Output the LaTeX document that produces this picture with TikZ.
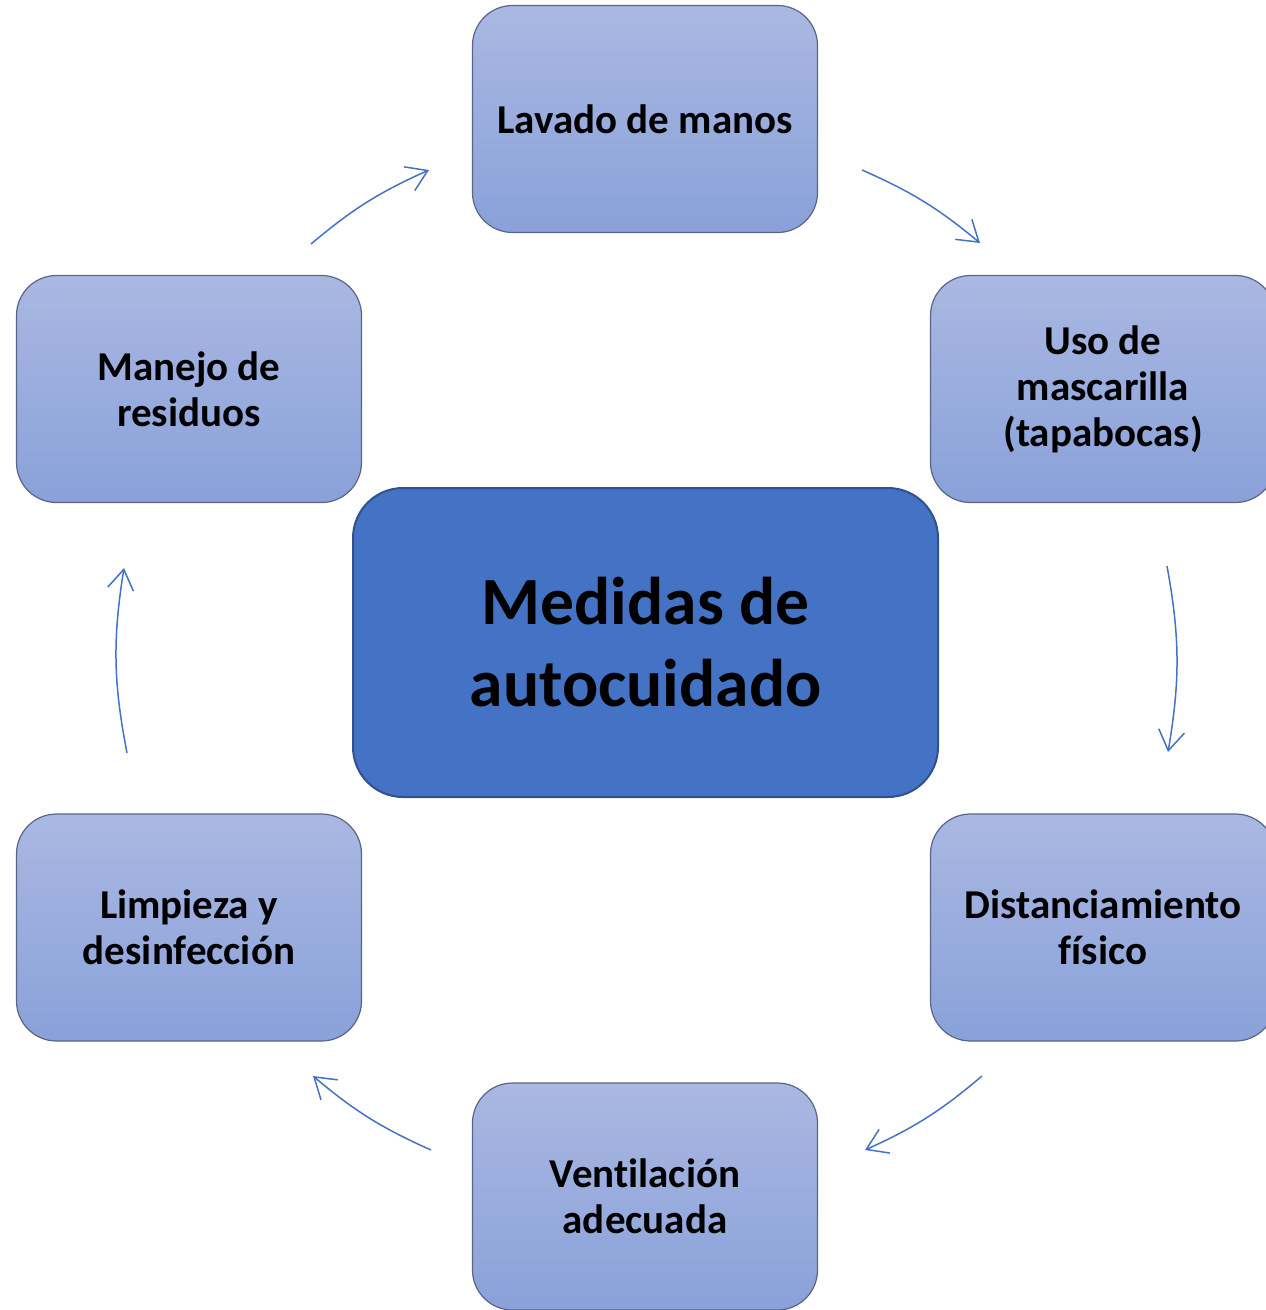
\documentclass[tikz,border=0pt]{standalone}
\usepackage{fontspec}
\setmainfont{Carlito}[Ligatures=NoCommon]
\usetikzlibrary{arrows.meta,shadings}
\definecolor{boxtop}{RGB}{170,184,226}
\definecolor{boxbot}{RGB}{137,161,217}
\definecolor{boxline}{RGB}{90,100,135}
\definecolor{mainfill}{RGB}{68,114,196}
\definecolor{mainline}{RGB}{47,82,143}
\definecolor{arr}{RGB}{68,114,196}
\tikzset{
  smallbox/.style={draw=boxline, line width=1.2pt, rounded corners=40pt,
    top color=boxtop, bottom color=boxbot, minimum width=345pt, minimum height=227pt,
    align=center, font=\fontsize{41}{46}\selectfont\bfseries, inner sep=0pt},
  mainbox/.style={draw=mainline, line width=2pt, rounded corners=50pt, fill=mainfill,
    minimum width=585pt, minimum height=309pt, align=center,
    font=\fontsize{67.5}{82}\selectfont\bfseries, inner sep=0pt},
  cyc/.style={draw=arr, line width=1.5pt, -{Straight Barb[length=20pt,width=26pt,line width=1.5pt]}}
}
\begin{document}
\begin{tikzpicture}[x=1pt,y=-1pt]
\useasboundingbox (0,0) rectangle (1266,1310);
\node[mainbox] (c) at (645.5,642.5) {Medidas de\\autocuidado};
\node[smallbox] (n1) at (645,119) {Lavado de manos};
\node[smallbox] (n2) at (1103,389) {Uso de\\mascarilla\\(tapabocas)};
\node[smallbox] (n3) at (1103,927.5) {Distanciamiento\\físico};
\node[smallbox] (n4) at (645,1196.5) {Ventilación\\adecuada};
\node[smallbox] (n5) at (189,927.5) {Limpieza y\\desinfección};
\node[smallbox] (n6) at (189,389) {Manejo de\\residuos};
\coordinate (a1s) at (862,170);  \coordinate (a1e) at (980,243);
\coordinate (a2s) at (1167,566); \coordinate (a2e) at (1168,752);
\coordinate (a3s) at (982,1076); \coordinate (a3e) at (865,1150);
\coordinate (a4s) at (431,1150); \coordinate (a4e) at (313,1076);
\coordinate (a5s) at (127,753);  \coordinate (a5e) at (124,568);
\coordinate (a6s) at (311,244);  \coordinate (a6e) at (429,170);
\draw[cyc] (a1s) to[bend left=8] (a1e);
\draw[cyc] (a2s) to[bend left=10] (a2e);
\draw[cyc] (a3s) to[bend left=8] (a3e);
\draw[cyc] (a4s) to[bend left=8] (a4e);
\draw[cyc] (a5s) to[bend left=10] (a5e);
\draw[cyc] (a6s) to[bend left=8] (a6e);
\end{tikzpicture}
\end{document}
